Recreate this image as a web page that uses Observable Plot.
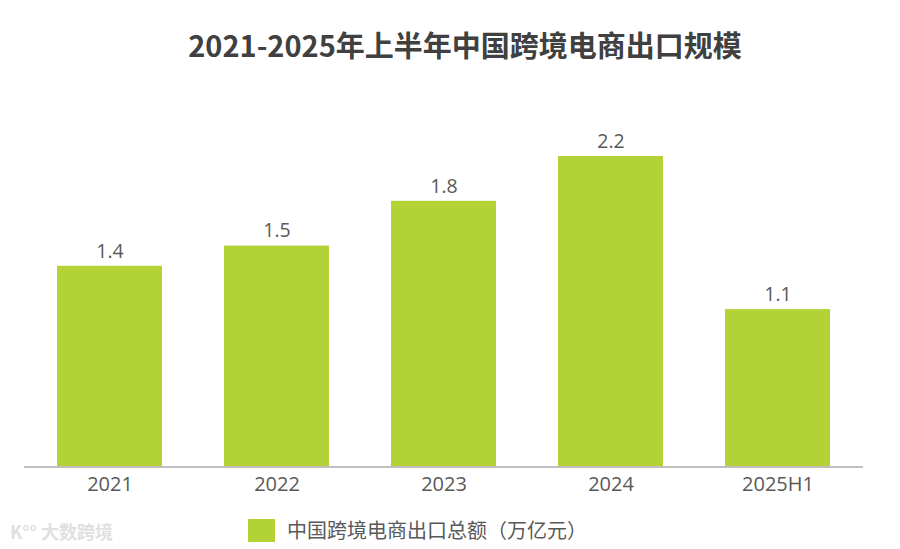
<!DOCTYPE html>
<html><head><meta charset="utf-8">
<script src="https://cdn.jsdelivr.net/npm/d3@7"></script>
<script src="https://cdn.jsdelivr.net/npm/@observablehq/plot@0.6"></script>
<style>
html,body{margin:0;padding:0;background:#fff;}
#wrap{position:relative;width:900px;height:549px;overflow:hidden;font-family:"Open Sans","Noto Sans CJK SC",sans-serif;}
#title{position:absolute;left:0;top:25px;width:930px;text-align:center;font-family:"Noto Sans CJK SC",sans-serif;font-weight:700;font-size:29px;color:#404040;line-height:38px;}
#chart{position:absolute;left:0;top:0;}
#legend{position:absolute;left:248px;top:517px;display:flex;align-items:center;font-family:"Noto Sans CJK SC",sans-serif;font-size:20px;color:#595959;line-height:26px;}
#legend .sw{width:27px;height:23px;background:#b2d235;margin-right:12px;}
#wm{position:absolute;left:10px;top:518px;font-family:"Noto Sans CJK SC",sans-serif;font-size:18px;color:#e0e0e0;font-weight:700;}
</style></head>
<body><div id="wrap">
<div id="title"></div>
<div id="chart"></div>
<div id="legend"><div class="sw"></div><span id="legtext"></span></div>
<div id="wm">K°° 大数跨境</div>
</div>
<script>
const titleText = "2021-2025年上半年中国跨境电商出口规模";
const seriesName = "中国跨境电商出口总额（万亿元）";
const categories = ["2021", "2022", "2023", "2024", "2025H1"];
const values = [1.39, 1.53, 1.84, 2.15, 1.09];
const valueLabels = ["1.4", "1.5", "1.8", "2.2", "1.1"];

document.getElementById("title").textContent = titleText;
document.getElementById("legtext").textContent = seriesName;

const data = categories.map((c, i) => ({cat: c, value: values[i], label: valueLabels[i]}));
const barColor = "#b2d235";

const chart = Plot.plot({
  width: 900,
  height: 500,
  marginLeft: 24,
  marginRight: 37,
  marginTop: 105.5,
  marginBottom: 33.5,
  style: {fontFamily: "'Open Sans','Noto Sans CJK SC',sans-serif", background: "transparent"},
  x: {domain: categories, paddingInner: 0.374, paddingOuter: 0.187, label: null},
  y: {domain: [0, 2.5], axis: null},
  marks: [
    Plot.barY(data, {x: "cat", y: "value", fill: barColor}),
    Plot.ruleY([0], {stroke: "#bfbfbf", strokeWidth: 2}),
    Plot.text(data, {x: "cat", y: "value", text: "label", dy: -15, fontSize: 19.5, fill: "#595959"}),
    Plot.axisX({tickSize: 0, tickPadding: 10, fontSize: 20, color: "#595959", label: null})
  ]
});
document.getElementById("chart").appendChild(chart);
</script>
</body></html>
